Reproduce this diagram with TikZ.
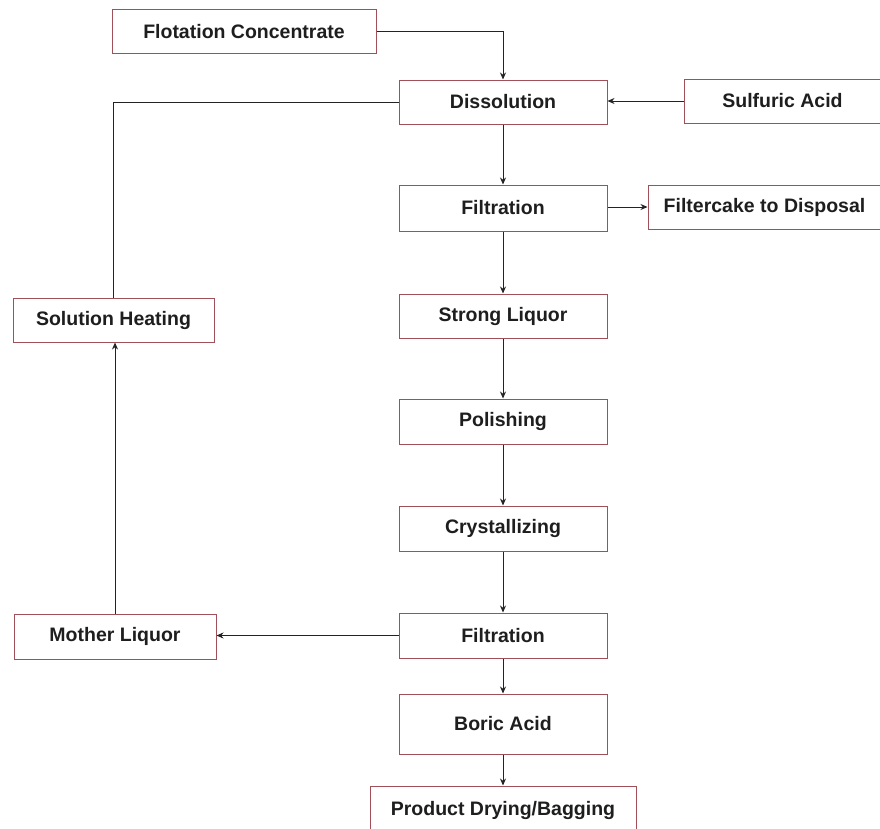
\documentclass[tikz,border=0pt]{standalone}
\usepackage{fontspec}
\setmainfont{Liberation Sans}
\usetikzlibrary{arrows.meta}
\definecolor{boxred}{RGB}{160,80,88}
\definecolor{txt}{RGB}{30,30,30}
\definecolor{ln}{RGB}{35,35,35}
\begin{document}
\begin{tikzpicture}[x=1pt,y=-1pt,
  box/.style={draw=boxred,line width=1pt,fill=white,inner sep=0pt,
    minimum height=44pt,text=txt,font=\fontsize{19.5}{22}\selectfont\bfseries},
  flow/.style={draw=ln,line width=0.9pt},
  arr/.style={flow,-{Stealth[length=7pt,width=6pt]}}]
\useasboundingbox (0,0) rectangle (880,828);
\node[box,minimum width=264pt] (fc) at (244,31.5) {Flotation Concentrate};
\node[box,minimum width=208pt] (dis) at (503,102) {Dissolution};
\node[box,minimum width=197pt] (sa) at (782.5,101) {Sulfuric Acid};
\node[box,minimum width=208pt,minimum height=46pt] (f1) at (503,208) {Filtration};
\node[box,minimum width=233pt] (fd) at (764.5,207) {Filtercake to Disposal};
\node[box,minimum width=201pt] (sh) at (113.5,320) {Solution Heating};
\node[box,minimum width=208pt] (sl) at (503,316) {Strong Liquor};
\node[box,minimum width=208pt,minimum height=45pt] (po) at (503,421.5) {Polishing};
\node[box,minimum width=208pt,minimum height=45pt] (cr) at (503,528.5) {Crystallizing};
\node[box,minimum width=208pt,minimum height=45pt] (f2) at (503,635.5) {Filtration};
\node[box,minimum width=202pt,minimum height=45pt] (ml) at (115,636.5) {Mother Liquor};
\node[box,minimum width=208pt,minimum height=60pt] (ba) at (503,724) {Boric Acid};
\node[box,minimum width=266pt,minimum height=48pt] (pd) at (503,810) {Product Drying/Bagging};

\draw[arr] (fc.east) -| (dis.north);
\draw[arr] (sa.west) -- (sa.west -| dis.east);
\draw[flow] (sh.north) |- (dis.west);
\draw[arr] (dis.south) -- (f1.north);
\draw[arr] (f1.east |- fd.west) -- (fd.west);
\draw[arr] (f1.south) -- (sl.north);
\draw[arr] (sl.south) -- (po.north);
\draw[arr] (po.south) -- (cr.north);
\draw[arr] (cr.south) -- (f2.north);
\draw[arr] (f2.west) -- (f2.west -| ml.east);
\draw[arr] (ml.north) -- (ml.north |- sh.south);
\draw[arr] (f2.south) -- (ba.north);
\draw[arr] (ba.south) -- (pd.north);
\end{tikzpicture}
\end{document}
